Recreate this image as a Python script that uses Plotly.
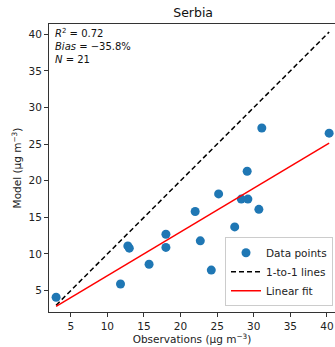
import plotly.graph_objects as go

obs = [3.0, 11.8, 12.8, 13.0, 15.7, 18.0, 18.0, 22.0, 22.7, 24.2, 25.2, 27.4, 28.3, 29.2, 30.7, 29.1, 31.1, 40.3]
model = [4.1, 5.9, 11.1, 10.8, 8.6, 12.7, 10.9, 15.8, 11.8, 7.8, 18.2, 13.7, 17.5, 17.5, 16.1, 21.3, 27.2, 26.5]
one_x = [3.0, 40.3]
one_y = [3.0, 40.3]
fit_x = [3.0, 40.3]
fit_y = [2.86, 25.15]
xticks = [5, 10, 15, 20, 25, 30, 35, 40]
yticks = [5, 10, 15, 20, 25, 30, 35, 40]

font = "DejaVu Sans"
fig = go.Figure()
fig.add_trace(go.Scatter(x=obs, y=model, mode="markers", name="Data points",
                         marker=dict(color="#1f77b4", size=9, line=dict(width=0))))
fig.add_trace(go.Scatter(x=one_x, y=one_y, mode="lines", name="1-to-1 lines",
                         line=dict(color="black", width=1.5, dash="5px,3px")))
fig.add_trace(go.Scatter(x=fit_x, y=fit_y, mode="lines", name="Linear fit",
                         line=dict(color="red", width=1.5)))

fig.update_layout(
    width=335, height=347,
    margin=dict(l=49, r=0, t=24, b=35),
    plot_bgcolor="white", paper_bgcolor="white",
    font=dict(family=font, size=10.5, color="#222"),
    title=dict(text="Serbia", x=0.5765, xanchor="center", y=1 - 13/347, yanchor="middle",
               font=dict(size=12.5, color="#111")),
    showlegend=True,
    legend=dict(x=0.993, y=0.02, xanchor="right", yanchor="bottom",
                bgcolor="rgba(255,255,255,0.9)", bordercolor="#cccccc", borderwidth=1,
                font=dict(size=10.5, color="#222"), tracegroupgap=0, itemwidth=30),
    annotations=[dict(text="<i>R</i><sup>2</sup> = 0.72<br><i>Bias</i> = \u221235.8%<br><i>N</i> = 21",
                      xref="paper", yref="paper", x=0.015, y=0.995, xanchor="left", yanchor="top",
                      align="left", showarrow=False, font=dict(size=10, color="#111"))],
)
fig.update_xaxes(range=[2.03, 41.1], tickvals=xticks, ticks="outside", ticklen=4, tickcolor="#333",
                 showline=True, linecolor="#333", linewidth=1, mirror=True, showgrid=False, zeroline=False,
                 title=dict(text="Observations (\u03bcg m<sup>\u22123</sup>)", standoff=4, font=dict(size=10.5)))
fig.update_yaxes(range=[2.08, 41.4], tickvals=yticks, ticks="outside", ticklen=4, tickcolor="#333",
                 showline=True, linecolor="#333", linewidth=1, mirror=False, showgrid=False, zeroline=False,
                 title=dict(text="Model (\u03bcg m<sup>\u22123</sup>)", standoff=4, font=dict(size=10.5)))
fig.write_html("out.html")
